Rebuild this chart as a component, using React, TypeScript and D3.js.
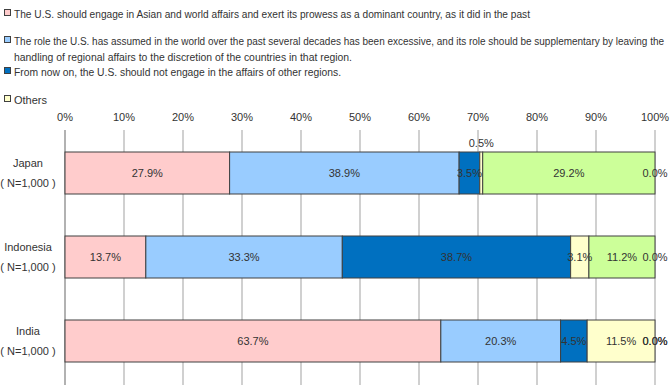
import React, { useRef, useEffect } from "react";
import * as d3 from "d3";

const categories = ["Japan", "Indonesia", "India"];
const sampleLabels = ["( N=1,000 )", "( N=1,000 )", "( N=1,000 )"];

const seriesNames = [
  "The U.S. should engage in Asian and world affairs and exert its prowess as a dominant country, as it did in the past",
  "The role the U.S. has assumed in the world over the past several decades has been excessive, and its role should be supplementary by leaving the|handling of regional affairs to the discretion of the countries in that region.",
  "From now on, the U.S. should not engage in the affairs of other regions.",
  "Others",
  "Don't know",
  "No answer",
];

const dominant = [27.9, 13.7, 63.7];
const supplementary = [38.9, 33.3, 20.3];
const notEngage = [3.5, 38.7, 4.5];
const others = [0.5, 3.1, 11.5];
const dontKnow = [29.2, 11.2, 0.0];
const noAnswer = [0.0, 0.0, 0.0];

const ticks = [0, 10, 20, 30, 40, 50, 60, 70, 80, 90, 100];

const colors = ["#ffcccc", "#99ccff", "#0070c0", "#ffffcc", "#ccff99", "#ffffff"];

const FONT = "'Liberation Sans', Arial, sans-serif";

// widths the legend lines take up in the (condensed) original rendering
const legendLineWidths = [[516], [650, 338], [327], [0]];

const App = () => {
  const svgRef = useRef<SVGSVGElement>(null);

  useEffect(() => {
    const svg = d3.select(svgRef.current);
    svg.selectAll("*").remove();

    const series = [dominant, supplementary, notEngage, others, dontKnow, noAnswer];

    const x = d3.scaleLinear().domain([0, 100]).range([65, 655]);
    const y = d3.scaleBand().domain(categories).range([131, 383]).paddingInner(0.5).paddingOuter(0.25);

    // legend
    const legendY = [14, 41, 72, 100];
    const legend = svg.append("g");
    [0, 1, 2, 3].forEach((i) => {
      const g = legend.append("g").attr("transform", `translate(0, ${legendY[i]})`);
      g.append("rect")
        .attr("x", 4.5)
        .attr("y", -4.5)
        .attr("width", 6)
        .attr("height", 6)
        .attr("fill", colors[i])
        .attr("stroke", "#404040")
        .attr("stroke-width", 1);
      seriesNames[i].split("|").forEach((line, j) => {
        const w = legendLineWidths[i][j];
        const t = g
          .append("text")
          .attr("x", 14)
          .attr("y", j * 16 + 3.5)
          .attr("font-family", FONT)
          .attr("font-size", w > 600 ? 10 : 11)
          .attr("fill", "#333")
          .text(line);
        if (w) t.attr("textLength", w).attr("lengthAdjust", "spacingAndGlyphs");
      });
    });

    // grid
    svg
      .append("g")
      .selectAll("line")
      .data(ticks)
      .enter()
      .append("line")
      .attr("x1", (d) => x(d))
      .attr("x2", (d) => x(d))
      .attr("y1", 130)
      .attr("y2", 385)
      .attr("stroke", (d) => (d === 0 ? "#999" : "#c0c0c0"))
      .attr("stroke-width", 1.5);

    svg
      .append("g")
      .selectAll("text")
      .data(ticks)
      .enter()
      .append("text")
      .attr("x", (d) => x(d))
      .attr("y", 121)
      .attr("text-anchor", "middle")
      .attr("font-family", FONT)
      .attr("font-size", 11)
      .attr("fill", "#333")
      .text((d) => `${d}%`);

    // category labels
    const catG = svg.append("g");
    categories.forEach((c, i) => {
      const cy = y(c)! + y.bandwidth() / 2;
      catG
        .append("text")
        .attr("x", 28)
        .attr("y", cy - 6)
        .attr("text-anchor", "middle")
        .attr("font-family", FONT)
        .attr("font-size", 11)
        .attr("fill", "#333")
        .text(c);
      catG
        .append("text")
        .attr("x", 28)
        .attr("y", cy + 14)
        .attr("text-anchor", "middle")
        .attr("font-family", FONT)
        .attr("font-size", 11)
        .attr("fill", "#333")
        .text(sampleLabels[i]);
    });

    // stacked bars
    const rows = categories.map((c, i) => {
      let acc = 0;
      return series.map((s, k) => {
        const start = acc;
        acc += s[i];
        return { cat: c, k, start, end: acc, value: s[i] };
      });
    });

    const barG = svg.append("g");
    rows.forEach((row) => {
      row.forEach((seg) => {
        if (seg.value <= 0) return;
        barG
          .append("rect")
          .attr("x", x(seg.start))
          .attr("y", y(seg.cat)!)
          .attr("width", x(seg.end) - x(seg.start))
          .attr("height", y.bandwidth())
          .attr("fill", colors[seg.k])
          .attr("stroke", "#404040")
          .attr("stroke-width", 1);
      });
    });

    const labelG = svg.append("g");
    rows.forEach((row) => {
      row.forEach((seg) => {
        const cy = y(seg.cat)! + y.bandwidth() / 2;
        const above = seg.value > 0 && seg.value < 1;
        labelG
          .append("text")
          .attr("x", x((seg.start + seg.end) / 2))
          .attr("y", above ? y(seg.cat)! - 5 : cy + 4)
          .attr("text-anchor", "middle")
          .attr("font-family", FONT)
          .attr("font-size", 11)
          .attr("fill", "#333")
          .text(`${seg.value.toFixed(1)}%`);
      });
    });
  }, []);

  return (
    <svg
      ref={svgRef}
      width={670}
      height={385}
      style={{ position: "absolute", left: 0, top: 0, background: "#fff" }}
    ></svg>
  );
};

export default App;
